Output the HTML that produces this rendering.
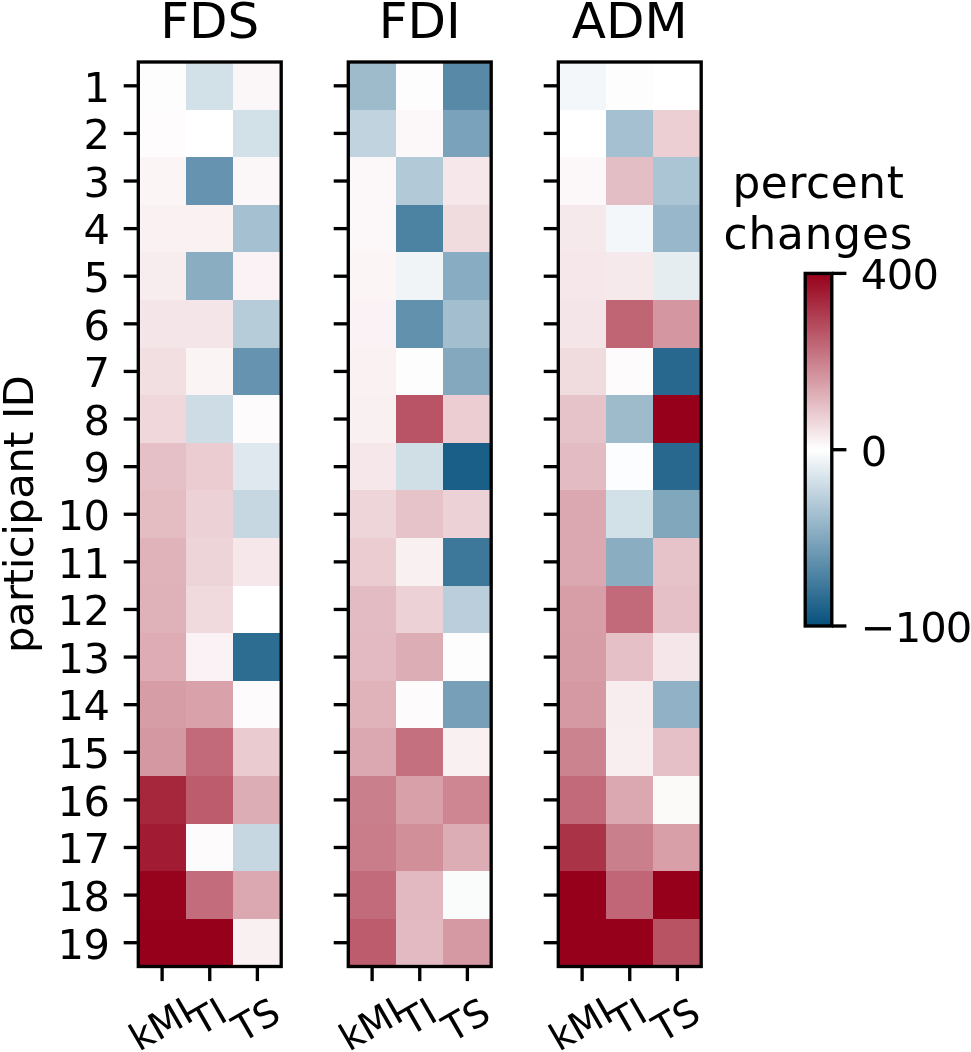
<!DOCTYPE html>
<html lang="en"><head><meta charset="utf-8"><title>percent changes heatmaps</title>
<style>html,body{margin:0;padding:0;background:#fff}body{width:971px;height:1052px;overflow:hidden}svg{display:block}text{font-family:"DejaVu Sans","Liberation Sans",sans-serif;fill:#000}</style></head><body>
<svg width="971" height="1052" viewBox="0 0 971 1052">
<rect width="971" height="1052" fill="#fff"/>
<defs><linearGradient id="cb" x1="0" y1="0" x2="0" y2="1"><stop offset="0" stop-color="#96001a"/><stop offset="0.5" stop-color="#ffffff"/><stop offset="1" stop-color="#05507d"/></linearGradient></defs>
<g shape-rendering="crispEdges">
<rect x="138" y="62" width="48" height="48" fill="#fdfdfd"/>
<rect x="186" y="62" width="47" height="48" fill="#d2e0e8"/>
<rect x="233" y="62" width="48" height="48" fill="#fbf6f7"/>
<rect x="138" y="110" width="48" height="47" fill="#fefcfd"/>
<rect x="186" y="110" width="47" height="47" fill="#ffffff"/>
<rect x="233" y="110" width="48" height="47" fill="#d2e0e8"/>
<rect x="138" y="157" width="48" height="48" fill="#fbf5f6"/>
<rect x="186" y="157" width="47" height="48" fill="#6694b0"/>
<rect x="233" y="157" width="48" height="48" fill="#fbf6f7"/>
<rect x="138" y="205" width="48" height="47" fill="#f9f1f2"/>
<rect x="186" y="205" width="47" height="47" fill="#f9f1f2"/>
<rect x="233" y="205" width="48" height="47" fill="#a5c0d0"/>
<rect x="138" y="252" width="48" height="48" fill="#f7ecee"/>
<rect x="186" y="252" width="47" height="48" fill="#8aadc2"/>
<rect x="233" y="252" width="48" height="48" fill="#faf2f4"/>
<rect x="138" y="300" width="48" height="48" fill="#f4e6e8"/>
<rect x="186" y="300" width="47" height="48" fill="#f4e6e8"/>
<rect x="233" y="300" width="48" height="48" fill="#b6ccd9"/>
<rect x="138" y="348" width="48" height="47" fill="#f2dfe2"/>
<rect x="186" y="348" width="47" height="47" fill="#faf4f5"/>
<rect x="233" y="348" width="48" height="47" fill="#6694b0"/>
<rect x="138" y="395" width="48" height="48" fill="#efd7dc"/>
<rect x="186" y="395" width="47" height="48" fill="#cddce5"/>
<rect x="233" y="395" width="48" height="48" fill="#fdfbfc"/>
<rect x="138" y="443" width="48" height="47" fill="#e5c1c7"/>
<rect x="186" y="443" width="47" height="47" fill="#eaccd1"/>
<rect x="233" y="443" width="48" height="47" fill="#dee8ee"/>
<rect x="138" y="490" width="48" height="48" fill="#e4bdc3"/>
<rect x="186" y="490" width="47" height="48" fill="#ecd1d6"/>
<rect x="233" y="490" width="48" height="48" fill="#c6d7e1"/>
<rect x="138" y="538" width="48" height="48" fill="#e0b2ba"/>
<rect x="186" y="538" width="47" height="48" fill="#edd4d8"/>
<rect x="233" y="538" width="48" height="48" fill="#f6e8ea"/>
<rect x="138" y="586" width="48" height="47" fill="#dfb1b9"/>
<rect x="186" y="586" width="47" height="47" fill="#f0dade"/>
<rect x="233" y="586" width="48" height="47" fill="#ffffff"/>
<rect x="138" y="633" width="48" height="48" fill="#ddacb5"/>
<rect x="186" y="633" width="47" height="48" fill="#faf2f4"/>
<rect x="233" y="633" width="48" height="48" fill="#2e6d92"/>
<rect x="138" y="681" width="48" height="47" fill="#d79da7"/>
<rect x="186" y="681" width="47" height="47" fill="#d9a2ab"/>
<rect x="233" y="681" width="48" height="47" fill="#fdfbfc"/>
<rect x="138" y="728" width="48" height="48" fill="#d498a2"/>
<rect x="186" y="728" width="47" height="48" fill="#c26a79"/>
<rect x="233" y="728" width="48" height="48" fill="#e9cbd0"/>
<rect x="138" y="776" width="48" height="48" fill="#a6263c"/>
<rect x="186" y="776" width="47" height="48" fill="#bc5c6c"/>
<rect x="233" y="776" width="48" height="48" fill="#ddadb6"/>
<rect x="138" y="824" width="48" height="47" fill="#a11b32"/>
<rect x="186" y="824" width="47" height="47" fill="#fdfbfc"/>
<rect x="233" y="824" width="48" height="47" fill="#c6d7e1"/>
<rect x="138" y="871" width="48" height="48" fill="#97031c"/>
<rect x="186" y="871" width="47" height="48" fill="#c36c7b"/>
<rect x="233" y="871" width="48" height="48" fill="#dba7b0"/>
<rect x="138" y="919" width="48" height="47" fill="#96001a"/>
<rect x="186" y="919" width="47" height="47" fill="#96001a"/>
<rect x="233" y="919" width="48" height="47" fill="#f9f0f1"/>
</g>
<g stroke="#000" stroke-width="3.33" fill="none">
<line x1="123.7" y1="85.8" x2="138.3" y2="85.8"/>
<line x1="123.7" y1="133.41" x2="138.3" y2="133.41"/>
<line x1="123.7" y1="181.01" x2="138.3" y2="181.01"/>
<line x1="123.7" y1="228.62" x2="138.3" y2="228.62"/>
<line x1="123.7" y1="276.22" x2="138.3" y2="276.22"/>
<line x1="123.7" y1="323.83" x2="138.3" y2="323.83"/>
<line x1="123.7" y1="371.43" x2="138.3" y2="371.43"/>
<line x1="123.7" y1="419.04" x2="138.3" y2="419.04"/>
<line x1="123.7" y1="466.64" x2="138.3" y2="466.64"/>
<line x1="123.7" y1="514.25" x2="138.3" y2="514.25"/>
<line x1="123.7" y1="561.86" x2="138.3" y2="561.86"/>
<line x1="123.7" y1="609.46" x2="138.3" y2="609.46"/>
<line x1="123.7" y1="657.07" x2="138.3" y2="657.07"/>
<line x1="123.7" y1="704.67" x2="138.3" y2="704.67"/>
<line x1="123.7" y1="752.28" x2="138.3" y2="752.28"/>
<line x1="123.7" y1="799.88" x2="138.3" y2="799.88"/>
<line x1="123.7" y1="847.49" x2="138.3" y2="847.49"/>
<line x1="123.7" y1="895.09" x2="138.3" y2="895.09"/>
<line x1="123.7" y1="942.7" x2="138.3" y2="942.7"/>
<line x1="162.12" y1="966.5" x2="162.12" y2="981.1"/>
<line x1="209.75" y1="966.5" x2="209.75" y2="981.1"/>
<line x1="257.38" y1="966.5" x2="257.38" y2="981.1"/>
<rect x="138.3" y="62" width="142.89" height="904.5"/>
</g>
<text x="209.75" y="37.6" font-size="50" text-anchor="middle">FDS</text>
<text transform="translate(162.12 1026.85) rotate(-30)" y="10.35" font-size="37.5" text-anchor="middle">kMI</text>
<text transform="translate(209.75 1019.05) rotate(-30)" y="10.35" font-size="37.5" text-anchor="middle">TI</text>
<text transform="translate(257.38 1022.25) rotate(-30)" y="10.35" font-size="37.5" text-anchor="middle">TS</text>
<g shape-rendering="crispEdges">
<rect x="348" y="62" width="48" height="48" fill="#9ebbcc"/>
<rect x="396" y="62" width="47" height="48" fill="#fdfdfd"/>
<rect x="443" y="62" width="48" height="48" fill="#588aa8"/>
<rect x="348" y="110" width="48" height="47" fill="#c0d3de"/>
<rect x="396" y="110" width="47" height="47" fill="#fcf7f8"/>
<rect x="443" y="110" width="48" height="47" fill="#7aa2ba"/>
<rect x="348" y="157" width="48" height="48" fill="#fcf7f8"/>
<rect x="396" y="157" width="47" height="48" fill="#b2c9d7"/>
<rect x="443" y="157" width="48" height="48" fill="#f6e8ea"/>
<rect x="348" y="205" width="48" height="47" fill="#fcf7f8"/>
<rect x="396" y="205" width="47" height="47" fill="#4c82a2"/>
<rect x="443" y="205" width="48" height="47" fill="#f0dbdf"/>
<rect x="348" y="252" width="48" height="48" fill="#fbf5f6"/>
<rect x="396" y="252" width="47" height="48" fill="#f0f4f7"/>
<rect x="443" y="252" width="48" height="48" fill="#88acc1"/>
<rect x="348" y="300" width="48" height="48" fill="#faf2f4"/>
<rect x="396" y="300" width="47" height="48" fill="#6291ad"/>
<rect x="443" y="300" width="48" height="48" fill="#a2becf"/>
<rect x="348" y="348" width="48" height="47" fill="#f9f1f2"/>
<rect x="396" y="348" width="47" height="47" fill="#fdfdfd"/>
<rect x="443" y="348" width="48" height="47" fill="#84a9bf"/>
<rect x="348" y="395" width="48" height="48" fill="#f9f0f1"/>
<rect x="396" y="395" width="47" height="48" fill="#b95466"/>
<rect x="443" y="395" width="48" height="48" fill="#ebcdd2"/>
<rect x="348" y="443" width="48" height="47" fill="#f6e8ea"/>
<rect x="396" y="443" width="47" height="47" fill="#d0dee6"/>
<rect x="443" y="443" width="48" height="47" fill="#1a5f88"/>
<rect x="348" y="490" width="48" height="48" fill="#eed5d9"/>
<rect x="396" y="490" width="47" height="48" fill="#e6c3c9"/>
<rect x="443" y="490" width="48" height="48" fill="#ecd1d6"/>
<rect x="348" y="538" width="48" height="48" fill="#eaccd1"/>
<rect x="396" y="538" width="47" height="48" fill="#f9f0f1"/>
<rect x="443" y="538" width="48" height="48" fill="#3d779a"/>
<rect x="348" y="586" width="48" height="47" fill="#e3bbc2"/>
<rect x="396" y="586" width="47" height="47" fill="#ecd1d6"/>
<rect x="443" y="586" width="48" height="47" fill="#bacfdb"/>
<rect x="348" y="633" width="48" height="48" fill="#e3bac1"/>
<rect x="396" y="633" width="47" height="48" fill="#ddadb6"/>
<rect x="443" y="633" width="48" height="48" fill="#fdfdfd"/>
<rect x="348" y="681" width="48" height="47" fill="#e0b2ba"/>
<rect x="396" y="681" width="47" height="47" fill="#fdfbfc"/>
<rect x="443" y="681" width="48" height="47" fill="#77a0b8"/>
<rect x="348" y="728" width="48" height="48" fill="#dba7b0"/>
<rect x="396" y="728" width="47" height="48" fill="#c4707f"/>
<rect x="443" y="728" width="48" height="48" fill="#f9f0f1"/>
<rect x="348" y="776" width="48" height="48" fill="#ca808c"/>
<rect x="396" y="776" width="47" height="48" fill="#d8a1aa"/>
<rect x="443" y="776" width="48" height="48" fill="#cd8692"/>
<rect x="348" y="824" width="48" height="47" fill="#c97c89"/>
<rect x="396" y="824" width="47" height="47" fill="#d18f9a"/>
<rect x="443" y="824" width="48" height="47" fill="#ddadb6"/>
<rect x="348" y="871" width="48" height="48" fill="#c26b7a"/>
<rect x="396" y="871" width="47" height="48" fill="#e2b9c0"/>
<rect x="443" y="871" width="48" height="48" fill="#fafcfc"/>
<rect x="348" y="919" width="48" height="47" fill="#bc5c6c"/>
<rect x="396" y="919" width="47" height="47" fill="#e3bac1"/>
<rect x="443" y="919" width="48" height="47" fill="#d599a3"/>
</g>
<g stroke="#000" stroke-width="3.33" fill="none">
<line x1="333.7" y1="85.8" x2="348.3" y2="85.8"/>
<line x1="333.7" y1="133.41" x2="348.3" y2="133.41"/>
<line x1="333.7" y1="181.01" x2="348.3" y2="181.01"/>
<line x1="333.7" y1="228.62" x2="348.3" y2="228.62"/>
<line x1="333.7" y1="276.22" x2="348.3" y2="276.22"/>
<line x1="333.7" y1="323.83" x2="348.3" y2="323.83"/>
<line x1="333.7" y1="371.43" x2="348.3" y2="371.43"/>
<line x1="333.7" y1="419.04" x2="348.3" y2="419.04"/>
<line x1="333.7" y1="466.64" x2="348.3" y2="466.64"/>
<line x1="333.7" y1="514.25" x2="348.3" y2="514.25"/>
<line x1="333.7" y1="561.86" x2="348.3" y2="561.86"/>
<line x1="333.7" y1="609.46" x2="348.3" y2="609.46"/>
<line x1="333.7" y1="657.07" x2="348.3" y2="657.07"/>
<line x1="333.7" y1="704.67" x2="348.3" y2="704.67"/>
<line x1="333.7" y1="752.28" x2="348.3" y2="752.28"/>
<line x1="333.7" y1="799.88" x2="348.3" y2="799.88"/>
<line x1="333.7" y1="847.49" x2="348.3" y2="847.49"/>
<line x1="333.7" y1="895.09" x2="348.3" y2="895.09"/>
<line x1="333.7" y1="942.7" x2="348.3" y2="942.7"/>
<line x1="372.12" y1="966.5" x2="372.12" y2="981.1"/>
<line x1="419.75" y1="966.5" x2="419.75" y2="981.1"/>
<line x1="467.38" y1="966.5" x2="467.38" y2="981.1"/>
<rect x="348.3" y="62" width="142.89" height="904.5"/>
</g>
<text x="419.75" y="37.6" font-size="50" text-anchor="middle">FDI</text>
<text transform="translate(372.12 1026.85) rotate(-30)" y="10.35" font-size="37.5" text-anchor="middle">kMI</text>
<text transform="translate(419.75 1019.05) rotate(-30)" y="10.35" font-size="37.5" text-anchor="middle">TI</text>
<text transform="translate(467.38 1022.25) rotate(-30)" y="10.35" font-size="37.5" text-anchor="middle">TS</text>
<g shape-rendering="crispEdges">
<rect x="558" y="62" width="48" height="48" fill="#f4f7f9"/>
<rect x="606" y="62" width="47" height="48" fill="#fdfdfd"/>
<rect x="653" y="62" width="48" height="48" fill="#ffffff"/>
<rect x="558" y="110" width="48" height="47" fill="#ffffff"/>
<rect x="606" y="110" width="47" height="47" fill="#a5c0d0"/>
<rect x="653" y="110" width="48" height="47" fill="#ebcfd3"/>
<rect x="558" y="157" width="48" height="48" fill="#fcf7f8"/>
<rect x="606" y="157" width="47" height="48" fill="#e4bec5"/>
<rect x="653" y="157" width="48" height="48" fill="#acc5d4"/>
<rect x="558" y="205" width="48" height="47" fill="#f6e9ec"/>
<rect x="606" y="205" width="47" height="47" fill="#f4f7f9"/>
<rect x="653" y="205" width="48" height="47" fill="#98b7ca"/>
<rect x="558" y="252" width="48" height="48" fill="#f6e8ea"/>
<rect x="606" y="252" width="47" height="48" fill="#f6e9ec"/>
<rect x="653" y="252" width="48" height="48" fill="#e5edf1"/>
<rect x="558" y="300" width="48" height="48" fill="#f4e6e8"/>
<rect x="606" y="300" width="47" height="48" fill="#bf6574"/>
<rect x="653" y="300" width="48" height="48" fill="#d496a1"/>
<rect x="558" y="348" width="48" height="47" fill="#f0dbdf"/>
<rect x="606" y="348" width="47" height="47" fill="#fdfbfc"/>
<rect x="653" y="348" width="48" height="47" fill="#28688f"/>
<rect x="558" y="395" width="48" height="48" fill="#e6c3c9"/>
<rect x="606" y="395" width="47" height="48" fill="#9ebbcc"/>
<rect x="653" y="395" width="48" height="48" fill="#96001a"/>
<rect x="558" y="443" width="48" height="47" fill="#e3bbc2"/>
<rect x="606" y="443" width="47" height="47" fill="#fcfdfe"/>
<rect x="653" y="443" width="48" height="47" fill="#28688f"/>
<rect x="558" y="490" width="48" height="48" fill="#dba8b1"/>
<rect x="606" y="490" width="47" height="48" fill="#d2e0e8"/>
<rect x="653" y="490" width="48" height="48" fill="#81a7bd"/>
<rect x="558" y="538" width="48" height="48" fill="#dba8b1"/>
<rect x="606" y="538" width="47" height="48" fill="#8aadc2"/>
<rect x="653" y="538" width="48" height="48" fill="#e6c3c9"/>
<rect x="558" y="586" width="48" height="47" fill="#d79ea8"/>
<rect x="606" y="586" width="47" height="47" fill="#c26a79"/>
<rect x="653" y="586" width="48" height="47" fill="#e5c1c7"/>
<rect x="558" y="633" width="48" height="48" fill="#d79da7"/>
<rect x="606" y="633" width="47" height="48" fill="#e5c1c7"/>
<rect x="653" y="633" width="48" height="48" fill="#f5e7e9"/>
<rect x="558" y="681" width="48" height="47" fill="#d599a3"/>
<rect x="606" y="681" width="47" height="47" fill="#f7ecee"/>
<rect x="653" y="681" width="48" height="47" fill="#91b2c6"/>
<rect x="558" y="728" width="48" height="48" fill="#cc8390"/>
<rect x="606" y="728" width="47" height="48" fill="#f8eef0"/>
<rect x="653" y="728" width="48" height="48" fill="#e5c1c7"/>
<rect x="558" y="776" width="48" height="48" fill="#c26a79"/>
<rect x="606" y="776" width="47" height="48" fill="#dba8b1"/>
<rect x="653" y="776" width="48" height="48" fill="#fcf9f9"/>
<rect x="558" y="824" width="48" height="47" fill="#ab3348"/>
<rect x="606" y="824" width="47" height="47" fill="#ca808c"/>
<rect x="653" y="824" width="48" height="47" fill="#d89fa9"/>
<rect x="558" y="871" width="48" height="48" fill="#96001a"/>
<rect x="606" y="871" width="47" height="48" fill="#c06676"/>
<rect x="653" y="871" width="48" height="48" fill="#96001a"/>
<rect x="558" y="919" width="48" height="47" fill="#96001a"/>
<rect x="606" y="919" width="47" height="47" fill="#96001a"/>
<rect x="653" y="919" width="48" height="47" fill="#b85364"/>
</g>
<g stroke="#000" stroke-width="3.33" fill="none">
<line x1="543.7" y1="85.8" x2="558.3" y2="85.8"/>
<line x1="543.7" y1="133.41" x2="558.3" y2="133.41"/>
<line x1="543.7" y1="181.01" x2="558.3" y2="181.01"/>
<line x1="543.7" y1="228.62" x2="558.3" y2="228.62"/>
<line x1="543.7" y1="276.22" x2="558.3" y2="276.22"/>
<line x1="543.7" y1="323.83" x2="558.3" y2="323.83"/>
<line x1="543.7" y1="371.43" x2="558.3" y2="371.43"/>
<line x1="543.7" y1="419.04" x2="558.3" y2="419.04"/>
<line x1="543.7" y1="466.64" x2="558.3" y2="466.64"/>
<line x1="543.7" y1="514.25" x2="558.3" y2="514.25"/>
<line x1="543.7" y1="561.86" x2="558.3" y2="561.86"/>
<line x1="543.7" y1="609.46" x2="558.3" y2="609.46"/>
<line x1="543.7" y1="657.07" x2="558.3" y2="657.07"/>
<line x1="543.7" y1="704.67" x2="558.3" y2="704.67"/>
<line x1="543.7" y1="752.28" x2="558.3" y2="752.28"/>
<line x1="543.7" y1="799.88" x2="558.3" y2="799.88"/>
<line x1="543.7" y1="847.49" x2="558.3" y2="847.49"/>
<line x1="543.7" y1="895.09" x2="558.3" y2="895.09"/>
<line x1="543.7" y1="942.7" x2="558.3" y2="942.7"/>
<line x1="582.12" y1="966.5" x2="582.12" y2="981.1"/>
<line x1="629.75" y1="966.5" x2="629.75" y2="981.1"/>
<line x1="677.38" y1="966.5" x2="677.38" y2="981.1"/>
<rect x="558.3" y="62" width="142.89" height="904.5"/>
</g>
<text x="629.75" y="37.6" font-size="50" text-anchor="middle">ADM</text>
<text transform="translate(582.12 1026.85) rotate(-30)" y="10.35" font-size="37.5" text-anchor="middle">kMI</text>
<text transform="translate(629.75 1019.05) rotate(-30)" y="10.35" font-size="37.5" text-anchor="middle">TI</text>
<text transform="translate(677.38 1022.25) rotate(-30)" y="10.35" font-size="37.5" text-anchor="middle">TS</text>
<text x="109.6" y="101.6" font-size="41.67" text-anchor="end" letter-spacing="-0.5">1</text>
<text x="109.6" y="149.21" font-size="41.67" text-anchor="end" letter-spacing="-0.5">2</text>
<text x="109.6" y="196.81" font-size="41.67" text-anchor="end" letter-spacing="-0.5">3</text>
<text x="109.6" y="244.42" font-size="41.67" text-anchor="end" letter-spacing="-0.5">4</text>
<text x="109.6" y="292.02" font-size="41.67" text-anchor="end" letter-spacing="-0.5">5</text>
<text x="109.6" y="339.63" font-size="41.67" text-anchor="end" letter-spacing="-0.5">6</text>
<text x="109.6" y="387.23" font-size="41.67" text-anchor="end" letter-spacing="-0.5">7</text>
<text x="109.6" y="434.84" font-size="41.67" text-anchor="end" letter-spacing="-0.5">8</text>
<text x="109.6" y="482.44" font-size="41.67" text-anchor="end" letter-spacing="-0.5">9</text>
<text x="109.6" y="530.05" font-size="41.67" text-anchor="end" letter-spacing="-0.5">10</text>
<text x="109.6" y="577.66" font-size="41.67" text-anchor="end" letter-spacing="-0.5">11</text>
<text x="109.6" y="625.26" font-size="41.67" text-anchor="end" letter-spacing="-0.5">12</text>
<text x="109.6" y="672.87" font-size="41.67" text-anchor="end" letter-spacing="-0.5">13</text>
<text x="109.6" y="720.47" font-size="41.67" text-anchor="end" letter-spacing="-0.5">14</text>
<text x="109.6" y="768.08" font-size="41.67" text-anchor="end" letter-spacing="-0.5">15</text>
<text x="109.6" y="815.68" font-size="41.67" text-anchor="end" letter-spacing="-0.5">16</text>
<text x="109.6" y="863.29" font-size="41.67" text-anchor="end" letter-spacing="-0.5">17</text>
<text x="109.6" y="910.89" font-size="41.67" text-anchor="end" letter-spacing="-0.5">18</text>
<text x="109.6" y="958.5" font-size="41.67" text-anchor="end" letter-spacing="-0.5">19</text>
<text transform="translate(33 514.25) rotate(-90)" font-size="41.67" text-anchor="middle" letter-spacing="-0.45">participant ID</text>
<rect x="805.2" y="273.4" width="26.6" height="352.6" fill="url(#cb)"/>
<g stroke="#000" stroke-width="3.33" fill="none">
<line x1="831.8" y1="273.4" x2="846.4" y2="273.4"/>
<line x1="831.8" y1="449.7" x2="846.4" y2="449.7"/>
<line x1="831.8" y1="626" x2="846.4" y2="626"/>
<rect x="805.2" y="273.4" width="26.6" height="352.6"/>
</g>
<text x="860.8" y="289.2" font-size="41.67" letter-spacing="-0.6">400</text>
<text x="860.8" y="465.5" font-size="41.67" letter-spacing="-0.6">0</text>
<text x="860.8" y="641.8" font-size="41.67" letter-spacing="-1.0">−100</text>
<text x="818.5" y="198" font-size="43.75" text-anchor="middle" letter-spacing="0.65">percent</text>
<text x="818.5" y="249" font-size="43.75" text-anchor="middle" letter-spacing="0.85">changes</text>
</svg></body></html>
